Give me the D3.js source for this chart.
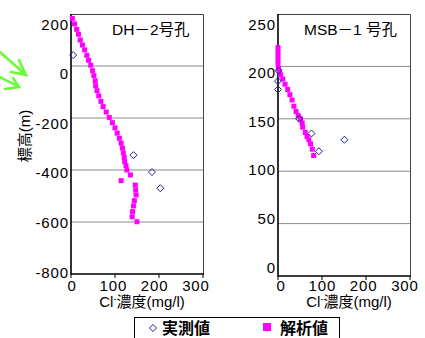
<!DOCTYPE html>
<html>
<head>
<meta charset="utf-8">
<script src="https://cdn.jsdelivr.net/npm/d3@7"></script>
<style>
  body { margin: 0; background: #fff; }
  svg { display: block; }
  text { font-family: "Liberation Sans", Arial, "Noto Sans CJK JP", sans-serif; fill: #000; }
</style>
</head>
<body>
<div id="chart"></div>
<script>
'use strict';

// DH-2号孔: [Cl mg/l, 標高 m]
const dhCalc = [
  [3, 183], [8, 162], [13, 141], [17, 122], [21, 100], [26, 81], [31, 62], [36, 41],
  [40, 22], [45, 3], [49, -18], [52, -37], [55, -57], [56, -76], [59, -95], [63, -115],
  [68, -136], [73, -156], [80, -177], [87, -198], [94, -218], [100, -238], [105, -258],
  [110, -278], [114, -297], [117, -316], [119, -335], [121, -352], [122, -368], [125, -383],
  [127, -400], [135, -419], [114, -441], [146, -458], [147, -477], [148, -496], [144, -518],
  [142, -538], [140, -560], [139, -580], [150, -599]
];
const dhObs = [[5, 42], [142, -343], [184, -408], [203, -470]];

// MSB-1号孔
const msbCalc = [
  [0, 218], [0, 214], [0, 210], [0, 206], [0, 202], [1, 198], [3, 195], [6, 192],
  [11, 188], [16, 183], [22, 178], [27, 173], [32, 168], [36, 162], [41, 157], [46, 153],
  [51, 150], [55, 146], [56, 142], [62, 137], [66, 133], [70, 130], [74, 126], [78, 121],
  [81, 115]
];
const msbObs = [[1, 196], [0, 186], [0, 178], [48, 150], [76, 136], [93, 119], [151, 130]];

const xTicks = [0, 100, 200, 300];
const dhTicks = [-800, -600, -400, -200, 0, 200];
const msbTicks = [0, 50, 100, 150, 200, 250];

const W = 425, H = 338;
const svg = d3.select('#chart').append('svg')
  .attr('width', W)
  .attr('height', H);

// hand-drawn green arrows at the left edge
svg.append('path')
  .attr('d', 'M0,52 L26,75 M19,60 L26,75 L11,72 M0,77 L19,87 M5,89 L19,87 L13,78')
  .attr('fill', 'none')
  .attr('stroke', '#66ff33')
  .attr('stroke-width', 2.5)
  .attr('stroke-linecap', 'round');

const diamond = (s) => `M0,${-s} L${s},0 L0,${s} L${-s},0 Z`;

const panels = [
  {
    title: 'DH－2号孔', titleX: 112,
    calc: dhCalc, obs: dhObs, yTicks: dhTicks, yDomain: [-800, 200],
    xRange: [71, 203], yRange: [274, 14],
    xLabelRange: [72, 196], yLabelRange: [272, 24],
  },
  {
    title: 'MSB－1 号孔', titleX: 304,
    calc: msbCalc, obs: msbObs, yTicks: msbTicks, yDomain: [0, 250],
    xRange: [278, 410], yRange: [276, 14],
    xLabelRange: [281, 405], yLabelRange: [267, 24],
  },
];

panels.forEach((p) => {
  const x = d3.scaleLinear().domain([0, 300]).range(p.xRange);
  const y = d3.scaleLinear().domain(p.yDomain).range(p.yRange);
  // Excel places tick labels slightly off the gridlines; mimic that
  const xl = d3.scaleLinear().domain([0, 300]).range(p.xLabelRange);
  const yl = d3.scaleLinear().domain(p.yDomain).range(p.yLabelRange);
  const [x0, x1] = p.xRange;
  const [y0, y1] = p.yRange;

  const g = svg.append('g');

  // gridlines
  g.selectAll('.grid')
    .data(p.yTicks.slice(1, -1))
    .join('line')
    .attr('x1', x0).attr('x2', x1)
    .attr('y1', (d) => y(d)).attr('y2', (d) => y(d))
    .attr('stroke', '#8a8a8a')
    .attr('stroke-width', 1);

  // plot frame: top and right
  g.append('path')
    .attr('d', `M${x0},${y1 + 0.5} H${x1 + 0.5} V${y0}`)
    .attr('fill', 'none')
    .attr('stroke', '#444')
    .attr('stroke-width', 1);

  // x tick marks
  g.selectAll('.xtick')
    .data(xTicks)
    .join('line')
    .attr('x1', (d) => x(d)).attr('x2', (d) => x(d))
    .attr('y1', y0).attr('y2', y0 + 4)
    .attr('stroke', '#000');

  // axes lines
  g.append('path')
    .attr('d', `M${x0},${y1} V${y0} H${x1 + 1}`)
    .attr('fill', 'none')
    .attr('stroke', '#000')
    .attr('stroke-width', 1.6);

  // y labels
  g.selectAll('.ylab')
    .data(p.yTicks)
    .join('text')
    .attr('x', x0 - 2)
    .attr('y', (d) => yl(d))
    .attr('text-anchor', 'end')
    .attr('dominant-baseline', 'central')
    .attr('font-size', 15)
    .attr('letter-spacing', 0.9)
    .text((d) => d);

  // x labels
  g.selectAll('.xlab')
    .data(xTicks)
    .join('text')
    .attr('x', (d) => xl(d))
    .attr('y', 291)
    .attr('text-anchor', 'middle')
    .attr('font-size', 15)
    .attr('letter-spacing', 0.9)
    .text((d) => d);

  // x axis title
  const xt = g.append('text')
    .attr('x', (x0 + x1) / 2 + 5)
    .attr('y', 307)
    .attr('text-anchor', 'middle')
    .attr('font-size', 15);
  xt.append('tspan').text('Cl');
  xt.append('tspan').attr('font-size', 9).attr('dy', -5).text('-');
  xt.append('tspan').attr('dy', 5).text('濃度(mg/l)');

  // panel title
  g.append('text')
    .attr('x', p.titleX)
    .attr('y', 35)
    .attr('font-size', 15.5)
    .text(p.title);

  // calculated values
  g.selectAll('.calc')
    .data(p.calc)
    .join('rect')
    .attr('x', (d) => x(d[0]) - 2.5)
    .attr('y', (d) => y(d[1]) - 2.5)
    .attr('width', 5)
    .attr('height', 5)
    .attr('fill', '#ff00ff');

  // observed values
  g.selectAll('.obs')
    .data(p.obs)
    .join('path')
    .attr('d', diamond(3.5))
    .attr('transform', (d) => `translate(${x(d[0])},${y(d[1])})`)
    .attr('fill', 'none')
    .attr('stroke', '#1c1c90')
    .attr('stroke-width', 1);
});

// y axis title
svg.append('text')
  .attr('transform', 'translate(30,136) rotate(-90)')
  .attr('text-anchor', 'middle')
  .attr('font-size', 15)
  .text('標高(m)');

// legend
const legend = svg.append('g');
legend.append('rect')
  .attr('x', 134.5).attr('y', 317.5)
  .attr('width', 205).attr('height', 30)
  .attr('fill', '#fff')
  .attr('stroke', '#000');
legend.append('path')
  .attr('d', diamond(3.5))
  .attr('transform', 'translate(153,328)')
  .attr('fill', 'none')
  .attr('stroke', '#1c1c90');
legend.append('text')
  .attr('x', 162).attr('y', 334)
  .attr('font-size', 16)
  .attr('font-weight', 'bold')
  .style('font-family', '"Noto Sans CJK JP", sans-serif')
  .text('実測値');
legend.append('rect')
  .attr('x', 263).attr('y', 323)
  .attr('width', 8).attr('height', 8)
  .attr('fill', '#ff00ff');
legend.append('text')
  .attr('x', 280).attr('y', 334)
  .attr('font-size', 16)
  .attr('font-weight', 'bold')
  .style('font-family', '"Noto Sans CJK JP", sans-serif')
  .text('解析値');
</script>
</body>
</html>
